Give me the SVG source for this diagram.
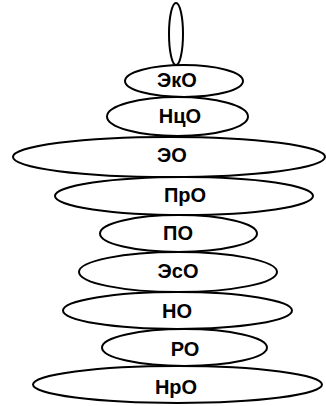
<svg xmlns="http://www.w3.org/2000/svg" width="326" height="406" viewBox="0 0 326 406">
<style>
.e{fill:#fff;stroke:#000;stroke-width:2}
.t{font-family:"Liberation Sans",Arial,sans-serif;font-size:20px;font-weight:bold;fill:#000;text-anchor:middle}
</style>
<rect width="326" height="406" fill="#fff"/>
<g id="top"><ellipse class="e" cx="176" cy="34" rx="7" ry="31"/></g>
<g id="NrO"><ellipse class="e" cx="177.5" cy="384.5" rx="144.5" ry="18.5"/><text class="t" x="176" y="394">НрО</text></g>
<g id="RO"><ellipse class="e" cx="184.5" cy="347.5" rx="82.5" ry="18.5"/><text class="t" x="185" y="356">РО</text></g>
<g id="NO"><ellipse class="e" cx="177.5" cy="310.5" rx="114.5" ry="18.5"/><text class="t" x="177" y="318">НО</text></g>
<g id="EsO"><ellipse class="e" cx="178" cy="272" rx="99" ry="20"/><text class="t" x="178" y="278">ЭсО</text></g>
<g id="PO"><ellipse class="e" cx="178.5" cy="233.5" rx="78.5" ry="18.5"/><text class="t" x="178" y="240">ПО</text></g>
<g id="PrO"><ellipse class="e" cx="184" cy="196" rx="129" ry="19"/><text class="t" x="185" y="202">ПрО</text></g>
<g id="EO"><ellipse class="e" cx="169" cy="157" rx="156" ry="20"/><text class="t" x="172" y="162">ЭО</text></g>
<g id="NcO"><ellipse class="e" cx="177.5" cy="116.5" rx="70.5" ry="19.5"/><text class="t" x="180" y="123">НцО</text></g>
<g id="EkO"><ellipse class="e" cx="184" cy="81" rx="59" ry="16"/><text class="t" x="177" y="87">ЭкО</text></g>
<g id="connectors"/>
</svg>
